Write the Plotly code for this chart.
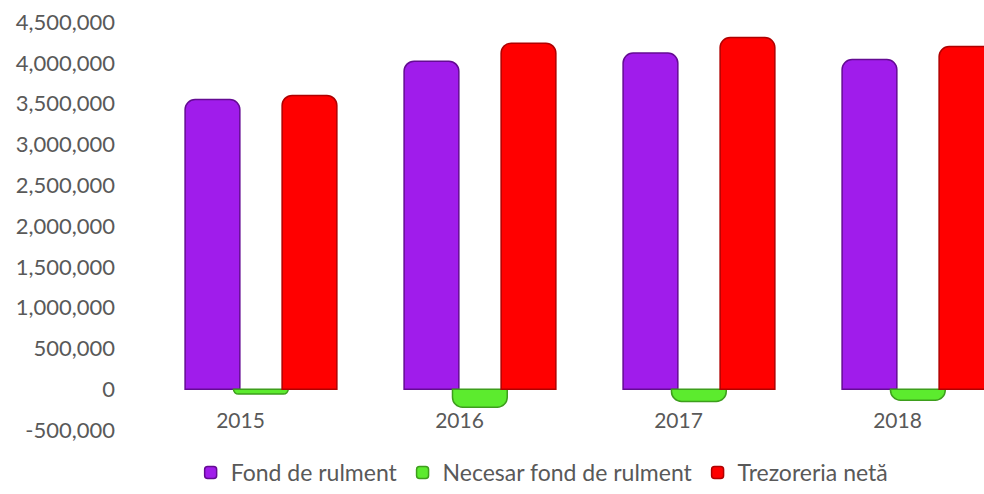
import plotly.graph_objects as go

years = ["2015", "2016", "2017", "2018"]
fond_rulment = [3550000, 4020000, 4120000, 4040000]
necesar_fond = [-60000, -220000, -150000, -135000]
trezoreria = [3600000, 4240000, 4310000, 4200000]
y_ticks = [-500000, 0, 500000, 1000000, 1500000, 2000000, 2500000,
           3000000, 3500000, 4000000, 4500000]
y_tick_text = ["-500,000", "0", "500,000", "1,000,000", "1,500,000", "2,000,000",
               "2,500,000", "3,000,000", "3,500,000", "4,000,000", "4,500,000"]

FONT = "Lato"
TXT = "#595959"

series = [
    ("Fond de rulment", fond_rulment, "#A01CEB", "#640B93", -0.253),
    ("Necesar fond de rulment", necesar_fond, "#5CEB2E", "#3D9E1C", -0.032),
    ("Trezoreria netă", trezoreria, "#FF0000", "#B00000", 0.19),
]

fig = go.Figure()
for name, vals, col, edge, off in series:
    fig.add_trace(go.Bar(
        x=years, y=vals, name=name,
        width=0.25, offset=off,
        marker=dict(color=col, line=dict(color=edge, width=1.5), cornerradius=10),
    ))

fig.update_layout(
    width=984, height=494,
    barmode="overlay",
    paper_bgcolor="white", plot_bgcolor="white",
    margin=dict(l=131, r=0, t=22, b=64, autoexpand=False),
    font=dict(family=FONT, size=21, color=TXT),
    showlegend=True,
    legend=dict(orientation="h", x=0.482, xanchor="center", y=-0.157, yanchor="bottom",
                font=dict(family=FONT, size=23, color=TXT), traceorder="normal"),
    xaxis=dict(type="category", range=[-0.5, 3.395], showgrid=False, showline=False,
               zeroline=False, ticks="", anchor="free", position=0.06,
               tickfont=dict(family=FONT, size=21, color=TXT)),
    yaxis=dict(range=[-500000, 4500000], tickvals=y_ticks, ticktext=y_tick_text,
               showgrid=False, showline=False, zeroline=False, ticks="",
               ticklabelstandoff=15,
               tickfont=dict(family=FONT, size=22, color=TXT)),
)

fig.write_html(
    "out.html",
    config={"displayModeBar": False},
    post_script="document.body.style.margin='0';document.body.style.overflow='hidden';",
)
